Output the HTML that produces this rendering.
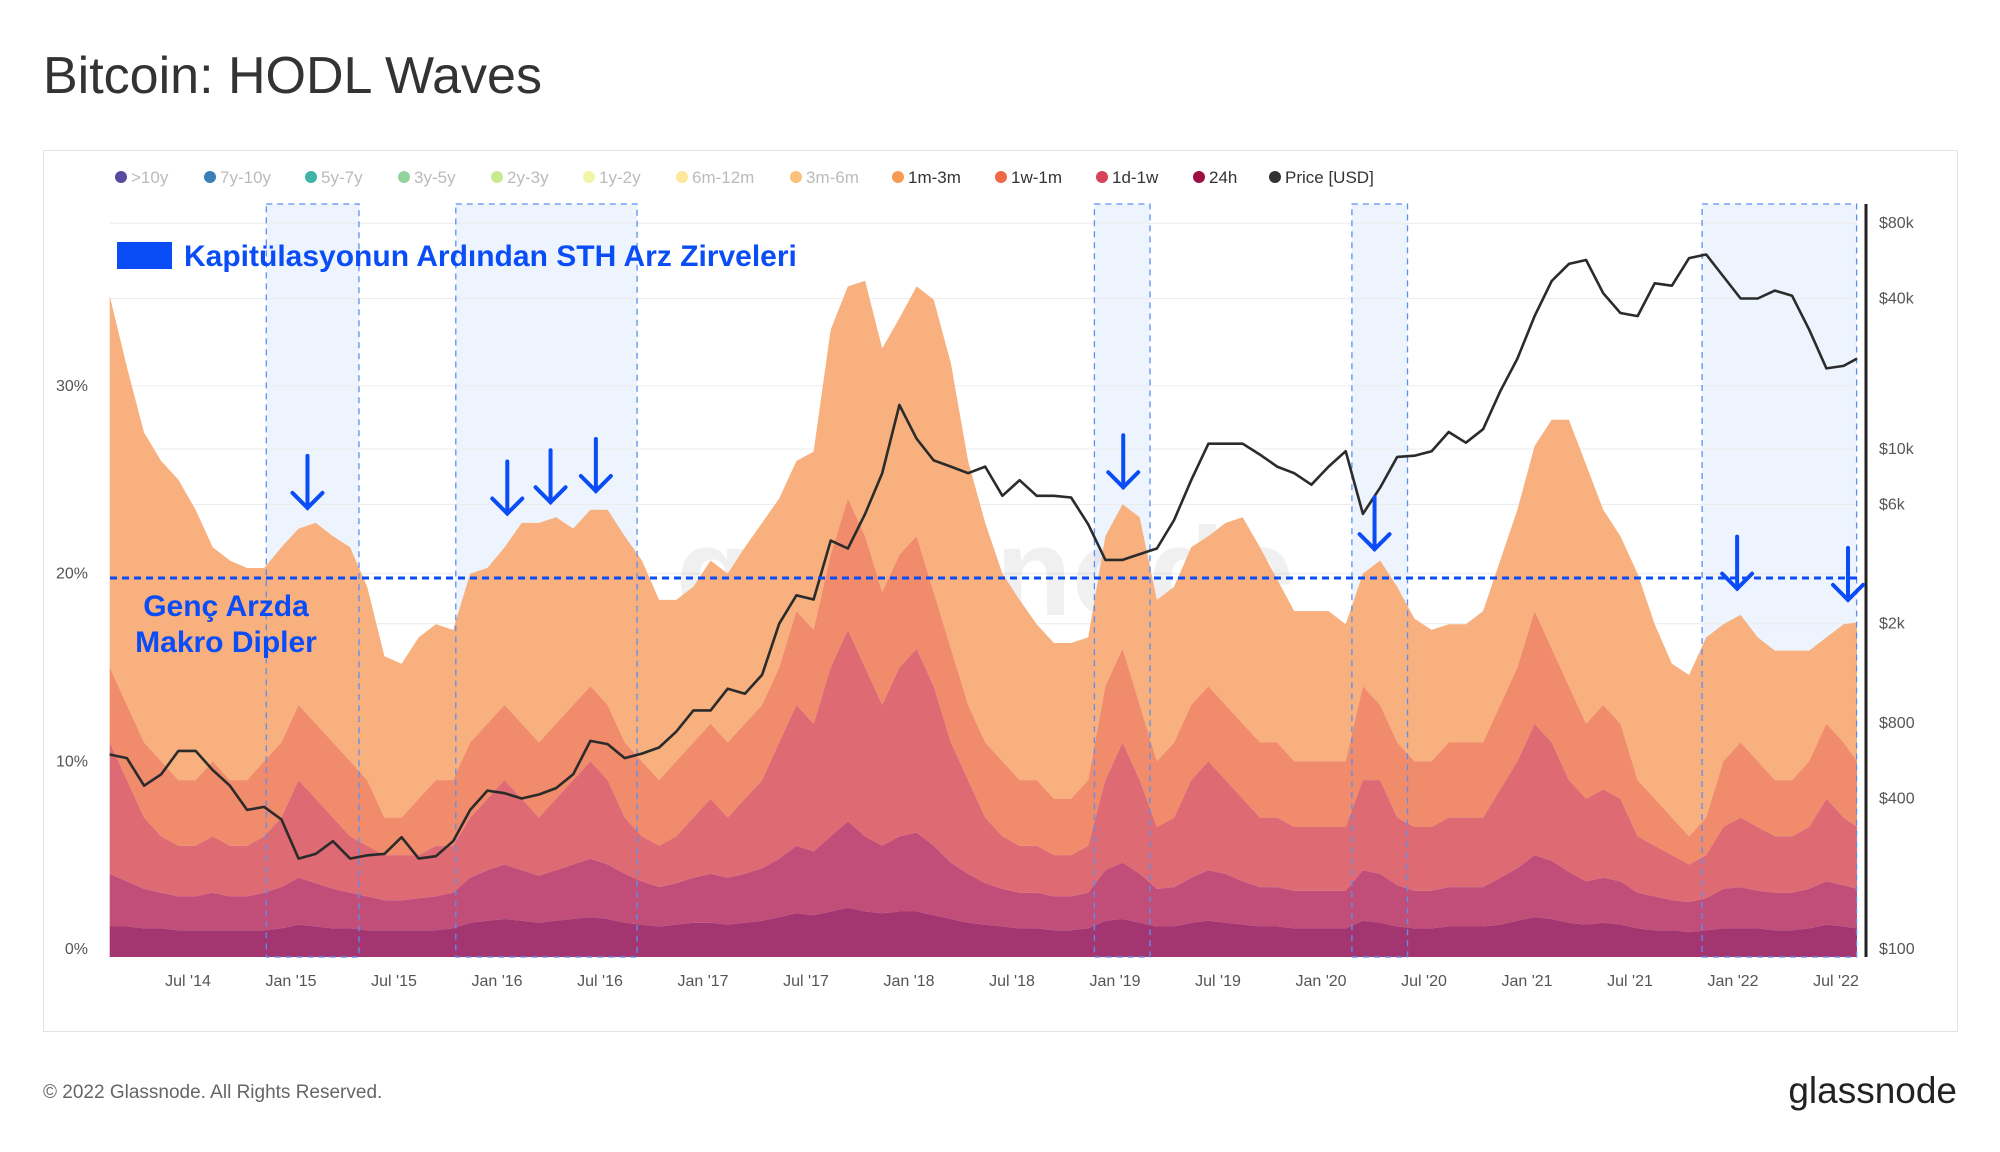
<!DOCTYPE html>
<html><head><meta charset="utf-8"><style>
html,body{margin:0;padding:0;background:#fff;width:2000px;height:1152px;overflow:hidden}
svg{display:block;font-family:"Liberation Sans",sans-serif}
</style></head><body>
<svg id="chart" width="2000" height="1152" viewBox="0 0 2000 1152">
<text x="43" y="93" font-size="52" fill="#333">Bitcoin: HODL Waves</text>
<rect x="43.5" y="150.5" width="1914" height="881" fill="#fff" stroke="#e3e3e3"/>
<g id="legend"></g>
<g id="shade"></g>
<g id="grid"></g>
<text x="985" y="615" font-size="125" fill="#000" fill-opacity="0.06" text-anchor="middle" font-weight="bold">glassnode</text>
<g id="areas"></g>
<g id="shadeBorders"></g>
<path id="priceLine" fill="none" stroke="#2b2b2b" stroke-width="2.6" stroke-linejoin="round"/>
<line x1="110" y1="578" x2="1857" y2="578" stroke="#0a4cf5" stroke-width="3" stroke-dasharray="7,5"/>
<line x1="1866" y1="204" x2="1866" y2="957" stroke="#222" stroke-width="3"/>
<g id="axes"></g>
<g id="arrows"></g>
<rect x="117" y="242" width="55" height="27" fill="#0a4cf5"/>
<text x="184" y="266" font-size="30" font-weight="bold" fill="#0a4cf5">Kapitülasyonun Ardından STH Arz Zirveleri</text>
<text x="226" y="616" font-size="30" font-weight="bold" fill="#0a4cf5" text-anchor="middle">Genç Arzda</text>
<text x="226" y="652" font-size="30" font-weight="bold" fill="#0a4cf5" text-anchor="middle">Makro Dipler</text>
<text x="43" y="1098" font-size="19" fill="#666">© 2022 Glassnode. All Rights Reserved.</text>
<text x="1957" y="1103" font-size="37" fill="#222" text-anchor="end">glassnode</text>
</svg>
<script>
// monthly, starting mid-Feb 2014
const startYear = 2014.12;
const cum24h = [1.2,1.2,1.1,1.1,1.0,1.0,1.0,1.0,1.0,1.0,1.1, 1.3,1.2,1.1,1.1,1.0,1.0,1.0,1.0,1.0,1.1,1.4,1.5, 1.6,1.5,1.4,1.5,1.6,1.7,1.6,1.4,1.3,1.2,1.3,1.4, 1.4,1.3,1.4,1.5,1.7,1.9,1.8,2.0,2.2,2.0,1.9,2.0, 2.0,1.8,1.6,1.4,1.3,1.2,1.1,1.1,1.0,1.0,1.1,1.5, 1.6,1.4,1.2,1.2,1.4,1.5,1.4,1.3,1.2,1.2,1.1,1.1, 1.1,1.1,1.5,1.4,1.2,1.1,1.1,1.2,1.2,1.2,1.3,1.5, 1.7,1.6,1.4,1.3,1.4,1.3,1.1,1.0,1.0,0.9,1.0,1.1, 1.1,1.1,1.0,1.0,1.1,1.3,1.2,1.1];
const cum1d1w = [4.0,3.6,3.2,3.0,2.8,2.8,3.0,2.8,2.8,3.0,3.3, 3.8,3.5,3.2,3.0,2.8,2.6,2.6,2.7,2.8,3.0,3.8,4.2, 4.5,4.2,3.9,4.2,4.5,4.8,4.5,4.0,3.6,3.3,3.5,3.8, 4.0,3.8,4.0,4.3,4.8,5.5,5.2,6.0,6.8,6.0,5.5,6.0, 6.2,5.5,4.6,4.0,3.5,3.2,3.0,3.0,2.8,2.8,3.0,4.2, 4.6,4.0,3.2,3.3,3.8,4.2,4.0,3.6,3.3,3.3,3.1,3.1, 3.1,3.1,4.2,4.0,3.4,3.1,3.1,3.3,3.3,3.3,3.8,4.3, 5.0,4.7,4.1,3.6,3.8,3.6,3.0,2.8,2.6,2.5,2.7,3.2, 3.3,3.1,3.0,3.0,3.2,3.6,3.4,3.2];
const cum1w1m = [11,9,7,6,5.5,5.5,6,5.5,5.5,6,7, 9,8,7,6,5.5,5,5,5,5.5,5.5,7,8, 9,8,7,8,9,10,9,7,6,5.5,6,7, 8,7,8,9,11,13,12,15,17,15,13,15, 16,14,11,9,7,6,5.5,5.5,5,5,5.5,9, 11,9,6.5,7,9,10,9,8,7,7,6.5,6.5, 6.5,6.5,9,9,7,6.5,6.5,7,7,7,8.5,10, 12,11,9,8,8.5,8,6,5.5,5,4.5,5,6.5, 7,6.5,6,6,6.5,8,7,6.5];
const cum1m3m = [15,13,11,10,9,9,10,9,9,10,11, 13,12,11,10,9,7,7,8,9,9,11,12, 13,12,11,12,13,14,13,11,10,9,10,11, 12,11,12,13,15,18,17,21,24,22,19,21, 22,19,16,13,11,10,9,9,8,8,9,14, 16,13,10,11,13,14,13,12,11,11,10,10, 10,10,14,13,11,10,10,11,11,11,13,15, 18,16,14,12,13,12,9,8,7,6,7,10, 11,10,9,9,10,12,11,10];
const cum3m6m = [34.8,31,27.5,26,25,23.4,21.4,20.7,20.3,20.3,21.4, 22.4,22.7,22,21.4,19.3,15.6,15.2,16.6,17.3,17,20,20.3, 21.4,22.7,22.7,23,22.4,23.4,23.4,22,20.7,18.6,18.6,19.3, 20.7,20,21.4,22.7,24,26,26.5,33,35.3,35.6,32,33.6, 35.3,34.6,31.2,26,22.7,20,18.6,17.3,16.3,16.3,16.6,22, 23.7,23,18.6,19.3,21.4,22,22.7,23,21.4,19.7,18,18, 18,17.3,20,20.7,19.3,17.6,17,17.3,17.3,18,20.7,23.4, 26.8,28.2,28.2,25.8,23.4,22,20,17.3,15.2,14.6,16.6,17.3, 17.8,16.6,15.9,15.9,15.9,16.6,17.3,17.4];
const priceUSD = [600,580,450,500,620,620,520,450,360,370,330, 230,240,270,230,237,240,280,230,235,270,360,430, 420,400,415,440,500,680,660,580,605,640,740,900, 900,1100,1050,1250,2000,2600,2500,4300,4000,5500,8000,15000, 11000,9000,8500,8000,8500,6500,7500,6500,6500,6400,5000,3600, 3600,3800,4000,5200,7500,10500,10500,10500,9500,8500,8000,7200, 8500,9800,5500,7000,9300,9400,9800,11700,10600,12000,17000,23000, 34000,47000,55000,57000,42000,35000,34000,46000,45000,58000,60000,49000, 40000,40000,43000,41000,30000,21000,21500,23000];
const xTickLabels = ["Jul '14","Jan '15","Jul '15","Jan '16","Jul '16","Jan '17","Jul '17","Jan '18","Jul '18","Jan '19","Jul '19","Jan '20","Jul '20","Jan '21","Jul '21","Jan '22","Jul '22"];
const xTickYears = [2014.5,2015,2015.5,2016,2016.5,2017,2017.5,2018,2018.5,2019,2019.5,2020,2020.5,2021,2021.5,2022,2022.5];
const pctTicks = [0,10,20,30];
const priceTicks = [100,400,800,2000,6000,10000,40000,80000];
const priceTickLabels = ["$100","$400","$800","$2k","$6k","$10k","$40k","$80k"];
const shadeRanges = [[2014.88,2015.33],[2015.8,2016.68],[2018.9,2019.17],[2020.15,2020.42],[2021.85,2022.6]];
const arrowYears = [2015.08,2016.05,2016.26,2016.48,2019.04,2020.26,2022.02,2022.56];
const arrowPct = [23.5,23.2,23.8,24.4,24.6,21.3,19.2,18.6];

const NS="http://www.w3.org/2000/svg";
const X0=110,X1=1857,Y0=949;
const xs=t=>291+(t-2015)*206;
const yp=p=>Y0-p*18.77;
const yPrice=v=>Y0-250*Math.log10(v/100);
const tOf=i=>startYear+i/12;
function mk(tag,attrs,parent){const e=document.createElementNS(NS,tag);for(const k in attrs)e.setAttribute(k,attrs[k]);parent.appendChild(e);return e;}

// legend
const legItems=[[">10y","#5a4a9f",0],["7y-10y","#3a7fb8",0],["5y-7y","#3fb3a6",0],["3y-5y","#93d39c",0],["2y-3y","#c9e98f",0],["1y-2y","#f2f5a8",0],["6m-12m","#fde89a",0],["3m-6m","#fbc17a",0],["1m-3m","#f79a55",1],["1w-1m","#ee6a45",1],["1d-1w","#d6435a",1],["24h","#9d0f44",1],["Price [USD]","#333",1]];
const legX=[121,210,311,404,497,589,682,796,898,1001,1102,1199,1275];
const lg=document.getElementById('legend');
legItems.forEach((it,i)=>{
 const g=mk('g',{},lg);
 
 
 mk('circle',{cx:legX[i],cy:177,r:6,fill:it[1]},g);
 const t=mk('text',{x:legX[i]+10,y:183,'font-size':17,fill:it[2]?'#333':'#bbb'},g);
 t.textContent=it[0];
});

// shading
const sh=document.getElementById('shade'),sb=document.getElementById('shadeBorders');
shadeRanges.forEach(r=>{
 const a=xs(r[0]),b=Math.min(xs(r[1]),X1);
 const rc=mk('rect',{x:a,y:204,width:b-a,height:753,fill:'#eef4fd'},sh);
 
 
 const bd=mk('rect',{x:a,y:204,width:b-a,height:753,fill:'none',stroke:'#5b8ff0','stroke-width':1.3,'stroke-dasharray':'6,5'},sb);
 
 
});

// grid
const gr=document.getElementById('grid');
priceTicks.forEach(v=>{const l=mk('line',{x1:X0,x2:X1,y1:yPrice(v),y2:yPrice(v),stroke:'#ececec','stroke-width':1},gr);});
pctTicks.forEach(v=>{const l=mk('line',{x1:X0,x2:X1,y1:yp(v),y2:yp(v),stroke:'#ececec','stroke-width':1},gr);});

// areas
const ar=document.getElementById('areas');
const layers=[[cum3m6m,cum1m3m,'#f7b07e','area-3m-6m'],[cum1m3m,cum1w1m,'#f08b6c','area-1m-3m'],[cum1w1m,cum1d1w,'#de6a73','area-1w-1m'],[cum1d1w,cum24h,'#c04e79','area-1d-1w'],[cum24h,null,'#a33670','area-24h']];
layers.forEach(L=>{
 const top=L[0],bot=L[1];let d='';
 top.forEach((v,i)=>{d+=(i?'L':'M')+Math.min(xs(tOf(i)),X1).toFixed(1)+','+yp(v).toFixed(1);});
 for(let i=top.length-1;i>=0;i--){d+='L'+Math.min(xs(tOf(i)),X1).toFixed(1)+','+(bot?yp(bot[i]):Y0+8).toFixed(1);}
 const p=mk('path',{d:d+'Z',fill:L[2]},ar);
 
 
});

// price
let pd='';priceUSD.forEach((v,i)=>{pd+=(i?'L':'M')+Math.min(xs(tOf(i)),X1).toFixed(1)+','+yPrice(v).toFixed(1);});
document.getElementById('priceLine').setAttribute('d',pd);

// axes
const ax=document.getElementById('axes');
xTickLabels.forEach((s,i)=>{const t=mk('text',{x:xs(xTickYears[i]),y:986,'font-size':16,fill:'#555','text-anchor':'middle'},ax);t.textContent=s;});
pctTicks.forEach(v=>{const t=mk('text',{x:88,y:yp(v)+5,'font-size':16,fill:'#555','text-anchor':'end'},ax);t.textContent=v+'%';});
priceTicks.forEach((v,i)=>{const t=mk('text',{x:1879,y:yPrice(v)+5,'font-size':16,fill:'#555'},ax);t.textContent=priceTickLabels[i];});

// arrows
const arw=document.getElementById('arrows');
arrowYears.forEach((t,i)=>{
 const x=Math.min(xs(t),1848),yb=yp(arrowPct[i]);
 const g=mk('g',{stroke:'#0a4cf5','stroke-width':4,fill:'none','stroke-linecap':'round'},arw);
 
 
 mk('line',{x1:x,y1:yb-52,x2:x,y2:yb},g);
 mk('polyline',{points:(x-15)+','+(yb-15)+' '+x+','+yb+' '+(x+15)+','+(yb-15)},g);
});
</script>
</body></html>
